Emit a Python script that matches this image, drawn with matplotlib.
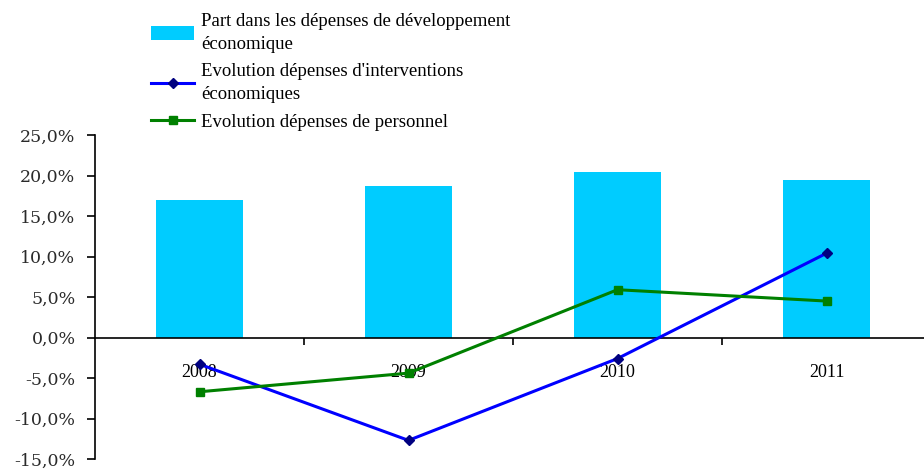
import matplotlib.pyplot as plt
from matplotlib.ticker import FuncFormatter

years = ['2008', '2009', '2010', '2011']
part_dev_eco = [17.0, 18.7, 20.4, 19.4]
evol_interventions = [-3.3, -12.7, -2.6, 10.4]
evol_personnel = [-6.7, -4.4, 5.9, 4.5]

fig = plt.figure(figsize=(9.24, 4.70), dpi=100)
ax = fig.add_axes([95 / 924, 11 / 470, 836 / 924, 324 / 470])

x = range(len(years))
b = ax.bar(x, part_dev_eco, width=0.42, color='#00CCFF', zorder=1,
           label='Part dans les dépenses de développement\néconomique')
l1, = ax.plot(x, evol_interventions, color='#0000FF', lw=2.2, marker='D', ms=5,
              mfc='#000080', mec='#000080', zorder=3,
              label="Evolution dépenses d'interventions\néconomiques")
l2, = ax.plot(x, evol_personnel, color='#008000', lw=2.2, marker='s', ms=5.5,
              mfc='#008000', mec='#008000', zorder=3,
              label='Evolution dépenses de personnel')

ax.set_xlim(-0.5, 3.5)
ax.set_ylim(-15, 25)
ax.set_yticks(range(-15, 30, 5))
ax.yaxis.set_major_formatter(FuncFormatter(lambda v, p: f'{v:.1f}%'.replace('.', ',')))

ax.spines['top'].set_visible(False)
ax.spines['right'].set_visible(False)
ax.spines['bottom'].set_position(('data', 0))
ax.spines['bottom'].set_linewidth(1.2)
ax.spines['left'].set_linewidth(1.2)

ax.set_xticks([0.5, 1.5, 2.5])
ax.set_xticklabels([])
ax.tick_params(axis='x', which='major', direction='out', length=5, width=1.2)
ax.set_xticks(list(x), minor=True)
ax.set_xticklabels(years, minor=True, fontsize=13, family='Liberation Serif')
ax.tick_params(axis='x', which='minor', length=0, pad=19)
ax.tick_params(axis='y', direction='out', length=6, width=1.2, labelsize=12.5, pad=8)
for t in ax.get_yticklabels():
    t.set_family('DejaVu Serif')
    t.set_color('#2a2a2a')

leg = fig.legend(handles=[b, l1, l2], loc='upper left', bbox_to_anchor=(138 / 924, 1.0),
                 frameon=False, prop={'family': 'Liberation Serif', 'size': 13.5},
                 handlelength=2.3, handletextpad=0.35, labelspacing=0.55, borderaxespad=0.3)
for t in leg.get_texts():
    t.set_linespacing(1.45)

fig.savefig('out.png', dpi=100)
